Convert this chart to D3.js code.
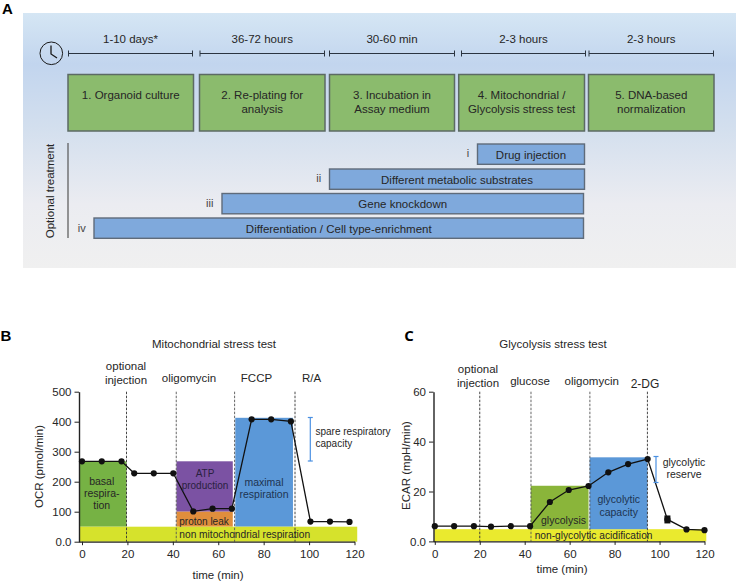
<!DOCTYPE html>
<html><head><meta charset="utf-8">
<script src="https://cdn.jsdelivr.net/npm/d3@7"></script>
<style>
html,body{margin:0;padding:0;background:#fff}
svg{display:block}
text{font-family:"Liberation Sans",Arial,sans-serif;fill:#262626}
</style></head><body>
<svg id="c" width="736" height="581"></svg>
<script>
// ---------- Panel A content ----------
const durations = ["1-10 days*","36-72 hours","30-60 min","2-3 hours","2-3 hours"];
const stages = [["1. Organoid culture"],["2. Re-plating for","analysis"],["3. Incubation in","Assay medium"],["4. Mitochondrial /","Glycolysis stress test"],["5. DNA-based","normalization"]];
const treatments = ["Drug injection","Different metabolic substrates","Gene knockdown","Differentiation / Cell type-enrichment"];
const treatmentMarks = ["i","ii","iii","iv"];

// ---------- Panel B data ----------
const ocrTimes  = [0,8.7,17.4,23,31.6,40.2,49,57.5,66,74.7,83.3,92,100.6,109.2,117.8];
const ocrValues = [268,268,268,228,228,228,101,110,110,408,408,401,67,67,66];
const ocrTicksY = [0,100,200,300,400,500];
const ocrTickLabelsY = ["0.0","100","200","300","400","500"];
const timeTicks = [0,20,40,60,80,100,120];
const ocrInjections = [19.6,41.5,67.2,93.8];
const ocrInjectionLabels = [["optional","injection"],["oligomycin"],["FCCP"],["R/A"]];

// ---------- Panel C data ----------
const ecarTimes  = [0,8.6,17.4,25,33.8,42.4,51.2,59.6,68.4,77.2,86,94.7,103.5,112,120];
const ecarValues = [6.1,6.1,6.1,5.9,6.1,6.1,15.8,20.6,22.2,27.7,31,33,8.8,4.8,4.5];
const ecarErrors = [0,0,0,0,0,0,0,0,0,0,0,0,1.6,0,0];
const ecarTicksY = [0,20,40,60];
const ecarTickLabelsY = ["0.0","20","40","60"];
const ecarInjections = [20,42.8,69,94.6];
const ecarInjectionLabels = [["optional","injection"],["glucose"],["oligomycin"],["2-DG"]];

const svg = d3.select("#c");
const defs = svg.append("defs");
const grad = defs.append("linearGradient").attr("id","bg").attr("x1",0).attr("x2",0).attr("y1",0).attr("y2",1);
[[0,"#d5e6f4"],[.2,"#c2d5ee"],[.45,"#d3dfee"],[.75,"#ebecf1"],[1,"#f0f0f0"]].forEach(s=>grad.append("stop").attr("offset",s[0]).attr("stop-color",s[1]));

function label(g,x,y,lines,opt={}){
  const lh=opt.lh||14, fs=opt.fs||11.5;
  lines.forEach((l,i)=>g.append("text").attr("x",x).attr("y",y+i*lh-(lines.length-1)*lh/2)
    .attr("text-anchor",opt.anchor||"middle").attr("dominant-baseline","central")
    .attr("font-size",fs).attr("font-weight",opt.weight||null)
    .style("fill",opt.fill||null).text(l));
}

// ---------- Panel A ----------
const A = svg.append("g");
A.append("rect").attr("x",23).attr("y",13).attr("width",713).attr("height",255).attr("fill","url(#bg)");
label(svg,7.5,8,["A"],{fs:15,weight:700,fill:"#000"});

const ruleEdges=[[68.5,192.5],[200,324.5],[329.5,454.5],[461.5,585.5],[589,713.5]];
const boxEdges=[[68,193.5],[199.5,325],[329.5,454.5],[458.7,584.5],[588.5,714]];
const rule=A.append("g").attr("stroke","#2b3440").attr("stroke-width",1);
ruleEdges.forEach((e,i)=>{
  rule.append("line").attr("x1",e[0]).attr("x2",e[1]).attr("y1",53.5).attr("y2",53.5);
  rule.append("line").attr("x1",e[0]).attr("x2",e[0]).attr("y1",50.5).attr("y2",56.5);
  rule.append("line").attr("x1",e[1]).attr("x2",e[1]).attr("y1",50.5).attr("y2",56.5);
  label(A,(e[0]+e[1])/2,39,[durations[i]],{fs:11.5});
});
stages.forEach((s,i)=>{
  const e=boxEdges[i];
  A.append("rect").attr("x",e[0]).attr("y",74.5).attr("width",e[1]-e[0]).attr("height",56.5)
    .attr("fill","#8bbb6d").attr("stroke","#5c6a64").attr("stroke-width",1.5);
  label(A,(e[0]+e[1])/2,s.length==1?95:102,s,{fs:11.5,lh:14});
});
const clock=A.append("g").attr("fill","none").attr("stroke","#1a1a1a");
clock.append("circle").attr("cx",51.3).attr("cy",53.3).attr("r",11.3).attr("stroke-width",1);
clock.append("path").attr("d","M51 45.5V54L57 58").attr("stroke-width",1.3);

const tx=[[477.5,584.5],[329.5,584.5],[222,583.5],[94,583.5]];
const ty=[144,169,193.5,218];
const mx=[468,318.7,209.7,81.7];
const my=[153,178,202.7,227.7];
treatments.forEach((t,i)=>{
  A.append("rect").attr("x",tx[i][0]).attr("y",ty[i]).attr("width",tx[i][1]-tx[i][0]).attr("height",20.3)
    .attr("fill","#7fa9dc").attr("stroke","#5f6b7a").attr("stroke-width",1.4);
  label(A,(tx[i][0]+tx[i][1])/2,ty[i]+10.5,[t],{fs:11.5});
  label(A,mx[i],my[i],[treatmentMarks[i]],{fs:11,fill:"#444"});
});
A.append("line").attr("x1",68).attr("x2",68).attr("y1",143).attr("y2",238).attr("stroke","#555").attr("stroke-width",1.2);
A.append("text").attr("transform","translate(50,191) rotate(-90)").attr("text-anchor","middle").attr("dominant-baseline","central").attr("font-size",11.5).text("Optional treatment");

// ---------- Shared chart builder ----------
function chart(cfg){
  const g=svg.append("g");
  const x=d3.scaleLinear().domain([0,120]).range(cfg.xr);
  const y=d3.scaleLinear().domain(cfg.yd).range(cfg.yr);
  cfg.regions.forEach(r=>g.append("rect")
    .attr("x",x(r[0])).attr("width",x(r[1])-x(r[0]))
    .attr("y",y(r[3])).attr("height",y(r[2])-y(r[3])).attr("fill",r[4]));
  cfg.inj.forEach((t,i)=>{
    g.append("line").attr("x1",x(t)).attr("x2",x(t)).attr("y1",cfg.yr[1]).attr("y2",cfg.yr[0])
      .attr("stroke",i==0||i==3?"#333":"#555").attr("stroke-width",.9).attr("stroke-dasharray","2.5 1.5");
  });
  const ax=g.append("g").attr("transform",`translate(0,${cfg.yr[0]})`)
    .call(d3.axisBottom(x).tickValues(timeTicks).tickSize(3.5).tickSizeOuter(0).tickPadding(5));
  ax.select(".domain").attr("d",`M${cfg.axisX},0.5H${cfg.xr[1]+.5}`);
  const ay=g.append("g").attr("transform",`translate(${cfg.axisX},0)`)
    .call(d3.axisLeft(y).tickValues(cfg.ticks).tickFormat((d,i)=>cfg.tickLabels[i]).tickSize(4.5).tickSizeOuter(0).tickPadding(3));
  [ax,ay].forEach(a=>{a.selectAll("text").attr("font-size",11.5).style("font-family",'"Liberation Sans",Arial,sans-serif').style("fill","#262626");
    a.selectAll("line").attr("stroke","#222");a.select(".domain").attr("stroke","#222").attr("stroke-width",1.2);});
  ay.select(".domain").attr("stroke-width",1.4);
  // error bars
  if(cfg.errors) cfg.errors.forEach((e,i)=>{ if(e>0) g.append("rect")
    .attr("x",x(cfg.t[i])-3).attr("width",6).attr("y",y(cfg.v[i]+e)).attr("height",y(cfg.v[i]-e)-y(cfg.v[i]+e)).attr("fill","#111");});
  const line=d3.line().x((d,i)=>x(cfg.t[i])).y(d=>y(d));
  g.append("path").attr("d",line(cfg.v)).attr("fill","none").attr("stroke","#111").attr("stroke-width",1.3);
  g.selectAll("circle.p").data(cfg.v).enter().append("circle").attr("class","p")
    .attr("cx",(d,i)=>x(cfg.t[i])).attr("cy",d=>y(d)).attr("r",3.1).attr("fill","#111");
  // spare bracket
  const b=cfg.bracket;
  const bg=g.append("g").attr("stroke","#4a90e2").attr("stroke-width",1.2);
  bg.append("line").attr("x1",b.x).attr("x2",b.x).attr("y1",b.y0).attr("y2",b.y1);
  bg.append("line").attr("x1",b.x-2.5).attr("x2",b.x+2.5).attr("y1",b.y0).attr("y2",b.y0);
  bg.append("line").attr("x1",b.x-2.5).attr("x2",b.x+2.5).attr("y1",b.y1).attr("y2",b.y1);
  g.append("text").attr("transform",`translate(${cfg.ytitleX},${cfg.ytitleY}) rotate(-90)`).attr("text-anchor","middle").attr("dominant-baseline","central").attr("font-size",11.5).text(cfg.ytitle);
  return {g,x,y};
}

// ---------- Panel B ----------
const B=chart({
  xr:[82,354.5], yd:[0,500], yr:[541.7,391.7], axisX:79,
  ticks:ocrTicksY, tickLabels:ocrTickLabelsY, t:ocrTimes, v:ocrValues, inj:ocrInjections,
  regions:[
    [-1.3,19.6,50,268,"#76b244"],
    [41.6,66.4,100,268,"#7b52a3"],
    [41.6,66.4,50,100,"#e08e3c"],
    [67.5,92.9,50,413,"#5b98d8"],
    [-1.3,121.2,0,50,"#d6e22c"]
  ],
  bracket:{x:310.3,y0:417.5,y1:461},
  ytitle:"OCR (pmol/min)", ytitleX:39, ytitleY:466.5
});
label(svg,6,335,["B"],{fs:15,weight:700,fill:"#000"});
label(svg,214,343.5,["Mitochondrial stress test"],{fs:11.5});
label(svg,126,372.5,ocrInjectionLabels[0],{fs:11.5,lh:14});
label(svg,189,378,ocrInjectionLabels[1],{fs:11.5});
label(svg,256.5,378,ocrInjectionLabels[2],{fs:11.5});
label(svg,311.5,378,ocrInjectionLabels[3],{fs:11.5});
label(svg,315.5,437.3,["spare respiratory","capacity"],{fs:10,lh:12,anchor:"start"});
label(svg,101.7,492.7,["basal","respira-","tion"],{fs:10.5,lh:12});
label(svg,205,479,["ATP","production"],{fs:10,lh:12,fill:"#2a2140"});
label(svg,204,521.7,["proton leak"],{fs:10});
label(svg,264,488.3,["maximal","respiration"],{fs:10.5,lh:12,fill:"#1d3452"});
label(svg,179.3,534,["non mitochondrial respiration"],{fs:10.2,anchor:"start"});

// ---------- Panel C ----------
const C=chart({
  xr:[434.8,704.5], yd:[0,60], yr:[541.4,391.7], axisX:433.5,
  ticks:ecarTicksY, tickLabels:ecarTickLabelsY, t:ecarTimes, v:ecarValues, errors:ecarErrors, inj:ecarInjections,
  regions:[
    [-0.2,120.8,0,4.9,"#eaea2e"],
    [42.7,68.4,4.9,22.3,"#8ab53a"],
    [68.9,94.6,4.9,33.7,"#5b98d8"]
  ],
  bracket:{x:656,y0:456.5,y1:482.5},
  ytitle:"ECAR (mpH/min)", ytitleX:406, ytitleY:465.5
});
svg.append("text").attr("x",409).attr("y",335).attr("text-anchor","middle").attr("dominant-baseline","central").attr("font-size",15).attr("font-weight",700).style("font-family",'"Open Sans",sans-serif').style("fill","#000").text("C");
label(svg,553,343.5,["Glycolysis stress test"],{fs:11.5});
label(svg,478,376,ecarInjectionLabels[0],{fs:11.5,lh:14});
label(svg,530,381,ecarInjectionLabels[1],{fs:11.5});
label(svg,591.7,381,ecarInjectionLabels[2],{fs:11.5});
label(svg,645,383.5,ecarInjectionLabels[3],{fs:12});
label(svg,684,468,["glycolytic","reserve"],{fs:10.5,lh:12});
label(svg,563.5,519.5,["glycolysis"],{fs:10.5});
label(svg,618.7,505.5,["glycolytic","capacity"],{fs:10.5,lh:12.5,fill:"#1d3452"});
label(svg,534.7,535.5,["non-glycolytic acidification"],{fs:10.2,anchor:"start"});
// axis titles
label(svg,218,575,["time (min)"],{fs:11.5});
label(svg,562,568.5,["time (min)"],{fs:11.5});
</script></body></html>
